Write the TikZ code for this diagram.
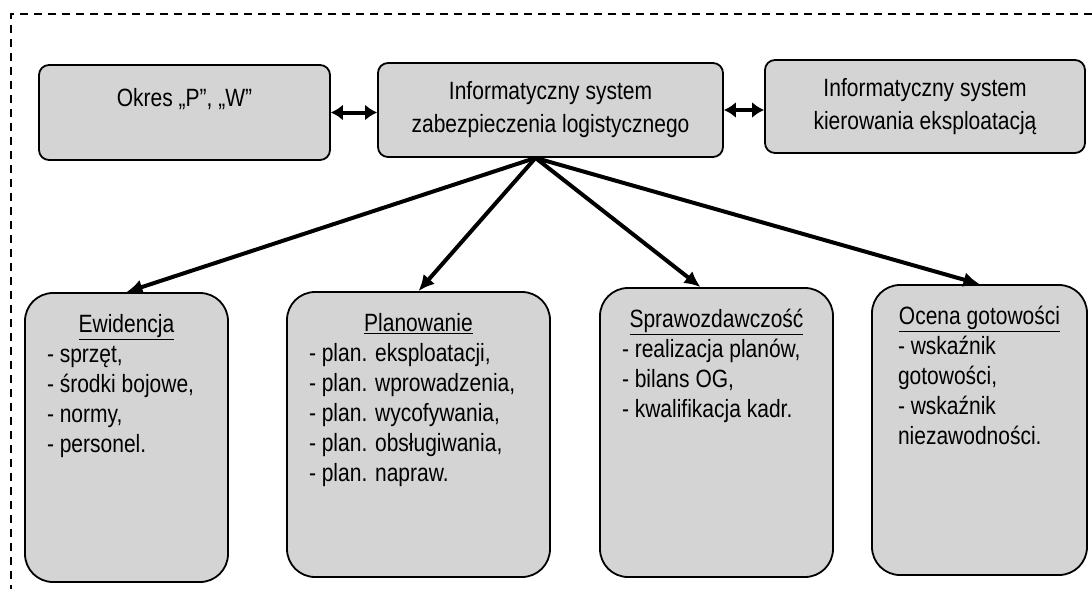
\documentclass[tikz,border=0pt]{standalone}
\usepackage{fontspec}
\setmainfont{Liberation Sans}[FakeStretch=0.84]
\usetikzlibrary{arrows.meta,calc}
\def\panel(#1:#2)[#3]#4{\parbox[t][#2][t]{#1}{\centering\underline{#3}\par\raggedright #4}}
\tikzset{
	topbox/.style={draw, line width=1.8pt, rounded corners=10pt, fill=black!17, align=center, font=\fontsize{25}{33}\selectfont},
	panelbox/.style={draw, line width=1.8pt, rounded corners=28pt, fill=black!17, inner ysep=21.5pt, inner xsep=22pt, font=\fontsize{25}{30}\selectfont},
	link/.style={line width=4pt, -{Latex[length=16pt,width=15pt]}},
	twoway/.style={line width=4pt, {Latex[length=12pt,width=16pt]}-{Latex[length=12pt,width=16pt]}}
}
\begin{document}
\begin{tikzpicture}[x=1pt,y=-1pt]
				\useasboundingbox (0,0) rectangle (1092,589);
				\draw[line width=1.3pt, dash pattern=on 8pt off 6pt] (1092,14) -- (11,14) -- (11,589);
				
				\node[topbox, minimum width=291pt, minimum height=95pt, text depth=30pt] (okres) at (184.5,112.5) {Okres „P”, „W”};
				\node[topbox, minimum width=345pt, minimum height=94pt] (zsl) at (550.5,110) {Informatyczny system\\zabezpieczenia logistycznego};
				\node[topbox, minimum width=320pt, minimum height=93pt] (kier) at (925,106.5) {Informatyczny system\\kierowania eksploatacją};
				
				\draw[twoway] (okres.east) -- (okres.east -| zsl.west);
				\draw[twoway] (zsl.east) -- (zsl.east -| kier.west);
				
				\node[panelbox] (ewid) at (126.5,437.5) {\panel(159pt:246pt)[Ewidencja]{- sprzęt,\\- środki bojowe,\\- normy,\\- personel.}};
				\node[panelbox] (plan) at (418.5,434.5) {\panel(219pt:242pt)[Planowanie]{- plan. eksploatacji,\\- plan. wprowadzenia,\\- plan. wycofywania,\\- plan. obsługiwania,\\- plan. napraw.}};
				\node[panelbox] (spraw) at (716.5,432.5) {\panel(189pt:246pt)[Sprawozdawczość]{- realizacja planów,\\- bilans OG,\\- kwalifikacja kadr.}};
				\node[panelbox, inner xsep=26pt] (ocena) at (979.5,430) {\panel(163pt:247pt)[Ocena gotowości]{- wskaźnik\\gotowości,\\- wskaźnik\\niezawodności.}};
				
				\coordinate (hub) at ($(zsl.south)+(-15,0)$);
				\draw[link] (hub) -- (ewid.north);
				\draw[link] (hub) -- (plan.north);
				\draw[link] (hub) -- ($(spraw.north)+(-16,0)$);
				\draw[link] (hub) -- (ocena.north);
			\end{tikzpicture}
\end{document}
